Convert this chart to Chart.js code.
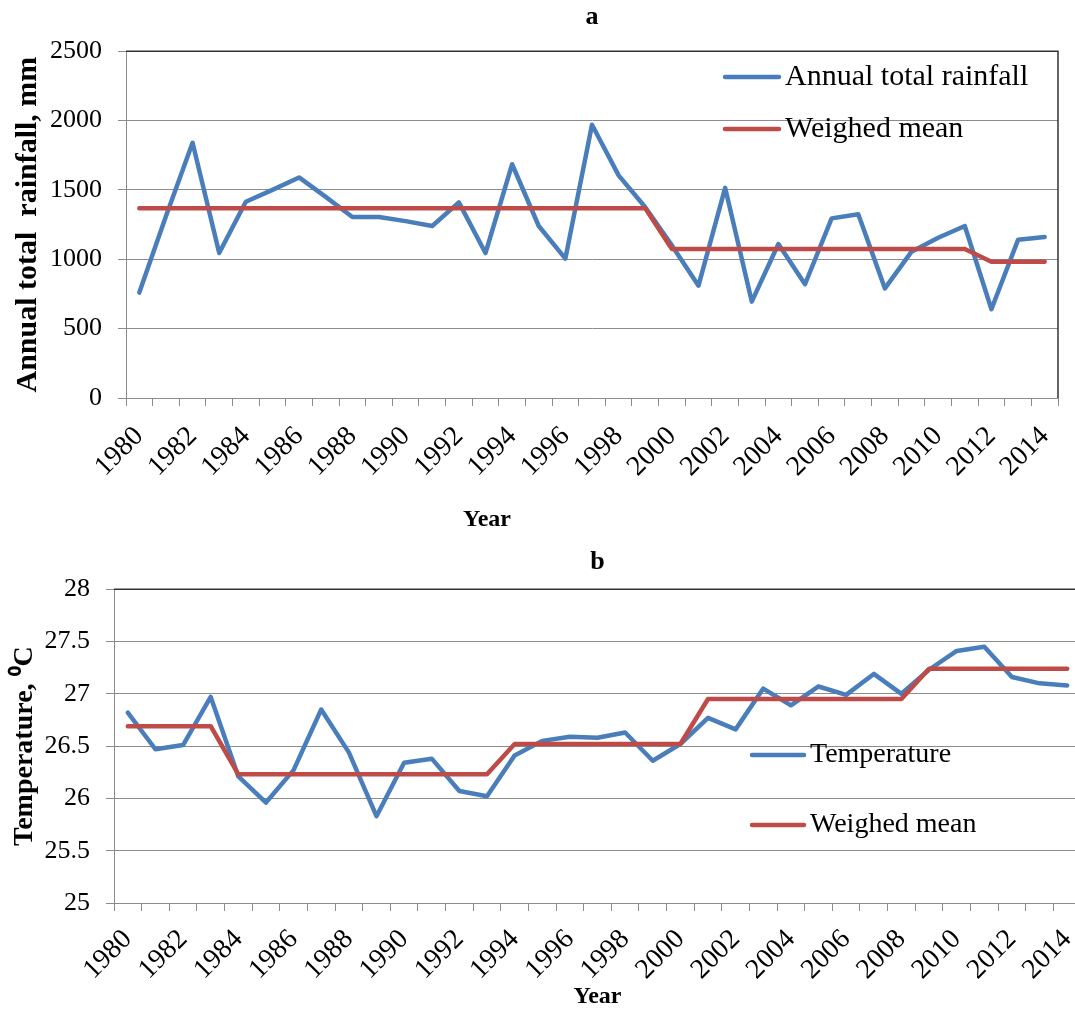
<!DOCTYPE html>
<html lang="en">
<head>
    <meta charset="UTF-8">
    <title>Annual rainfall and temperature, 1980-2014</title>
    <script src="https://cdn.jsdelivr.net/npm/chart.js"></script>
    <style>
        html, body {
            margin: 0;
            padding: 0;
            background: #fff;
            overflow: hidden;
        }
        .panel {
            position: absolute;
            left: 0;
        }
        #panel-a { top: 0; }
        #panel-b { top: 540px; }
    </style>
</head>
<body>
    <div class="panel" id="panel-a"><canvas id="rain-chart" width="1075" height="540"></canvas></div>
    <div class="panel" id="panel-b"><canvas id="temp-chart" width="1090" height="472"></canvas></div>

    <script>
        const years = ['1980', '1981', '1982', '1983', '1984', '1985', '1986', '1987', '1988', '1989',
                       '1990', '1991', '1992', '1993', '1994', '1995', '1996', '1997', '1998', '1999',
                       '2000', '2001', '2002', '2003', '2004', '2005', '2006', '2007', '2008', '2009',
                       '2010', '2011', '2012', '2013', '2014'];

        // panel a: annual total rainfall, mm
        const rainfall = [760, 1310, 1840, 1045, 1415, 1500, 1590, 1450, 1305, 1305,
                          1275, 1240, 1410, 1045, 1685, 1240, 1005, 1970, 1605, 1375,
                          1100, 810, 1515, 695, 1110, 820, 1295, 1325, 790, 1055,
                          1155, 1240, 640, 1140, 1160];
        const rainMean = [1367, 1367, 1367, 1367, 1367, 1367, 1367, 1367, 1367, 1367,
                          1367, 1367, 1367, 1367, 1367, 1367, 1367, 1367, 1367, 1367,
                          1074, 1074, 1074, 1074, 1074, 1074, 1074, 1074, 1074, 1074,
                          1074, 1074, 982, 982, 982];

        // panel b: mean annual temperature, deg C
        const temperature = [26.82, 26.47, 26.51, 26.97, 26.21, 25.96, 26.27, 26.85, 26.44, 25.83,
                             26.34, 26.38, 26.07, 26.02, 26.41, 26.55, 26.59, 26.58, 26.63, 26.36,
                             26.52, 26.77, 26.66, 27.05, 26.89, 27.07, 26.99, 27.19, 27.00, 27.23,
                             27.41, 27.45, 27.16, 27.10, 27.08];
        const tempMean = [26.69, 26.69, 26.69, 26.69, 26.23, 26.23, 26.23, 26.23, 26.23, 26.23,
                          26.23, 26.23, 26.23, 26.23, 26.52, 26.52, 26.52, 26.52, 26.52, 26.52,
                          26.52, 26.95, 26.95, 26.95, 26.95, 26.95, 26.95, 26.95, 26.95, 27.24,
                          27.24, 27.24, 27.24, 27.24, 27.24];

        const SERIF = "'Liberation Serif', 'Times New Roman', serif";
        const BLUE = '#4a7ebb';
        const RED = '#be4b48';
        const GRID = '#8c8c8c';

        // dark top/right edge of the plot area
        const plotFrame = {
            id: 'plotFrame',
            afterDraw(chart) {
                const { ctx, chartArea: a } = chart;
                ctx.save();
                ctx.strokeStyle = '#333';
                ctx.lineWidth = 1.5;
                ctx.beginPath();
                ctx.moveTo(a.left, a.top);
                ctx.lineTo(a.right, a.top);
                ctx.lineTo(a.right, a.bottom);
                ctx.stroke();
                ctx.restore();
            }
        };

        // legend sitting inside the plot area, one entry per row
        const insideLegend = {
            id: 'insideLegend',
            afterDatasetsDraw(chart, args, opts) {
                const ctx = chart.ctx;
                ctx.save();
                ctx.font = opts.fontSize + 'px ' + SERIF;
                ctx.textBaseline = 'middle';
                ctx.fillStyle = '#000';
                chart.data.datasets.forEach((ds, i) => {
                    const y = opts.y + i * opts.gap;
                    ctx.strokeStyle = ds.borderColor;
                    ctx.lineWidth = ds.borderWidth;
                    ctx.lineCap = 'round';
                    ctx.beginPath();
                    ctx.moveTo(opts.x, y);
                    ctx.lineTo(opts.x + opts.lineLength, y);
                    ctx.stroke();
                    ctx.fillText(ds.label, opts.x + opts.lineLength + 6, y);
                });
                ctx.restore();
            }
        };

        function makePanel(canvasId, p) {
            return new Chart(document.getElementById(canvasId), {
                type: 'line',
                data: {
                    labels: years,
                    datasets: [
                        { label: p.seriesLabel, data: p.series, borderColor: BLUE, borderWidth: 4.5, order: 1 },
                        { label: 'Weighed mean', data: p.mean, borderColor: RED, borderWidth: 4.5, order: 0 }
                    ]
                },
                options: {
                    responsive: false,
                    animation: false,
                    elements: {
                        point: { radius: 0 },
                        line: { tension: 0, borderJoinStyle: 'round', borderCapStyle: 'round' }
                    },
                    layout: { padding: { left: 0, right: p.padRight, top: 0, bottom: 0 } },
                    plugins: {
                        legend: { display: false },
                        tooltip: { enabled: false },
                        title: {
                            display: true,
                            fullSize: false,
                            text: p.title,
                            color: '#000',
                            font: { family: SERIF, size: 26, weight: 'bold' },
                            padding: p.titlePad
                        },
                        insideLegend: p.legend
                    },
                    scales: {
                        x: {
                            offset: true,
                            grid: { offset: true, drawOnChartArea: false, tickLength: 8, color: GRID },
                            border: { color: GRID },
                            ticks: {
                                autoSkip: false,
                                minRotation: 45,
                                maxRotation: 45,
                                padding: p.xTickPad,
                                color: '#000',
                                font: { family: SERIF, size: 28 },
                                callback: (v, i) => (i % 2 === 0 ? years[i] : '')
                            },
                            title: {
                                display: true,
                                text: p.xTitle,
                                color: '#000',
                                font: { family: SERIF, size: 24, weight: 'bold' },
                                padding: { top: 0, bottom: p.xTitlePad }
                            },
                            afterFit: (s) => {
                                s.height = p.xAxisHeight;
                                // keep the plot width fixed; rotated labels may overhang
                                s.paddingLeft = 0;
                                s.paddingRight = 0;
                            }
                        },
                        y: {
                            min: p.yMin,
                            max: p.yMax,
                            ticks: {
                                stepSize: p.yStep,
                                padding: 16,
                                color: '#000',
                                font: { family: SERIF, size: 26 },
                                callback: (v) => String(v)
                            },
                            grid: { color: GRID, tickLength: 8 },
                            border: { color: GRID },
                            title: {
                                display: true,
                                text: p.yTitle,
                                color: '#000',
                                font: { family: SERIF, size: p.yTitleSize, weight: 'bold' },
                                padding: { top: p.yTitlePad, bottom: 0 }
                            },
                            afterFit: (s) => {
                                s.width = p.yAxisWidth;
                                s.paddingTop = 0;
                                s.paddingBottom = 0;
                            }
                        }
                    }
                },
                plugins: [plotFrame, insideLegend]
            });
        }

        makePanel('rain-chart', {
            title: 'a',
            titlePad: { top: 2, bottom: 18 },
            seriesLabel: 'Annual total rainfall',
            series: rainfall,
            mean: rainMean,
            yMin: 0, yMax: 2500, yStep: 500,
            yTitle: 'Annual total  rainfall, mm',
            yTitleSize: 30,
            yTitlePad: 10,
            // trailing spaces push the centred "Year" left, as in the original figure
            xTitle: 'Year' + ' '.repeat(35),
            xTitlePad: 6,
            xTickPad: 14,
            yAxisWidth: 126,
            xAxisHeight: 142,
            padRight: 17,
            legend: { x: 725, y: 77, gap: 52, lineLength: 54, fontSize: 30 }
        });

        makePanel('temp-chart', {
            title: 'b',
            titlePad: { top: 7, bottom: 11 },
            seriesLabel: 'Temperature',
            series: temperature,
            mean: tempMean,
            yMin: 25, yMax: 28, yStep: 0.5,
            yTitle: 'Temperature, \u2070C',
            yTitleSize: 28,
            yTitlePad: 8,
            xTitle: 'Year',
            xTitlePad: 1,
            xTickPad: 12,
            yAxisWidth: 114,
            xAxisHeight: 109,
            padRight: 9,
            legend: { x: 752, y: 215, gap: 70, lineLength: 52, fontSize: 28 }
        });
    </script>
</body>
</html>
